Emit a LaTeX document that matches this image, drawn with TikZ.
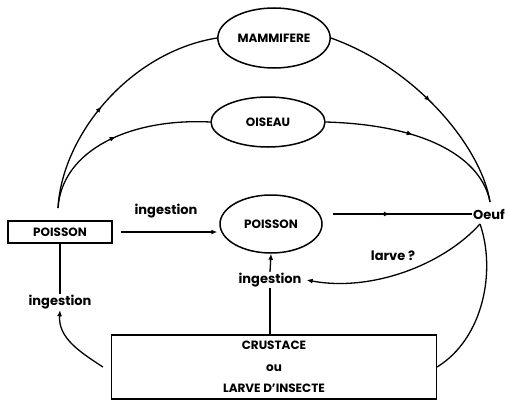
\documentclass[tikz,border=0pt]{standalone}
\usepackage{fontspec}
\setmainfont{Poppins}
\usetikzlibrary{decorations.markings,arrows.meta,shapes.geometric}
\tikzset{
  lbl/.style={font=\bfseries\fontsize{13}{15}\selectfont, inner sep=1pt},
  ell/.style={draw, line width=1.5pt, ellipse, font=\bfseries\fontsize{12}{14}\selectfont},
  bx/.style={draw, line width=1.2pt, font=\bfseries\fontsize{12}{14}\selectfont},
  conn/.style={line width=1.3pt},
  tip/.style={conn, -{Latex[length=6pt,width=5pt]}},
  midarrow/.style={conn, postaction=decorate, decoration={markings,
     mark=at position #1 with {\arrow{Latex[length=6pt,width=5pt]}}}},
  midarrow/.default=0.5
}
\begin{document}
\begin{tikzpicture}[x=1pt,y=-1pt]
\useasboundingbox (0,0) rectangle (508,404);
\node[ell, minimum width=112pt, minimum height=60pt] (mam) at (274,38) {MAMMIFERE};
\node[ell, minimum width=114pt, minimum height=50pt] (ois) at (268,122) {OISEAU};
\node[ell, minimum width=102pt, minimum height=58pt] (pe) at (271,224) {POISSON};
\node[bx, minimum width=104pt, minimum height=22pt] (pb) at (60,232) {POISSON};
\node[lbl] (oeuf) at (489,214) {Oeuf};
\node[bx, minimum width=325pt, minimum height=64pt, align=center, font=\bfseries\fontsize{12}{21.5}\selectfont] (cr) at (274,367) {CRUSTACE\\ou\\LARVE D'INSECTE};
\node[lbl] (ing1) at (166,211) {ingestion};
\node[lbl] (ing2) at (270,280) {ingestion};
\node[lbl] (ing3) at (60,302) {ingestion};
\node[lbl] (larve) at (393,256) {larve ?};
\coordinate (pbtop) at (58,208);
\coordinate (oeuftop) at (490,202);
\coordinate (oeufbot) at (480,224);
% upper arcs
\draw[midarrow=0.45] (pbtop) .. controls (62,135) and (130,52) .. (mam.west);
\draw[midarrow=0.5] (pbtop) .. controls (62,150) and (130,118) .. (ois.west);
\draw[midarrow=0.5] (mam.east) .. controls (420,70) and (482,150) .. (oeuftop);
\draw[midarrow=0.45] (ois.east) .. controls (430,125) and (482,160) .. (oeuftop);
% middle row
\draw[midarrow=0.45, shorten <=10pt] (pe.east |- oeuf.west) -- (oeuf.west);
\draw[tip, shorten <=8pt, shorten >=2pt] (pb.east) -- (pe.west |- pb.east);
% ingestion from crustace
\draw[conn] (cr.north -| ing2) -- (ing2.south);
\draw[tip] (ing2.north) -- (pe.south);
\draw[conn] (pb.south) -- (ing3.north);
\draw[tip] ([xshift=-8pt]cr.west) .. controls (80,352) and (58,338) .. (ing3.south);
% from oeuf
\draw[tip] (oeufbot) .. controls (442,266) and (370,292) .. ([xshift=4pt]ing2.east);
\draw[conn] (oeufbot) .. controls (496,270) and (484,338) .. (cr.east);
\end{tikzpicture}
\end{document}
